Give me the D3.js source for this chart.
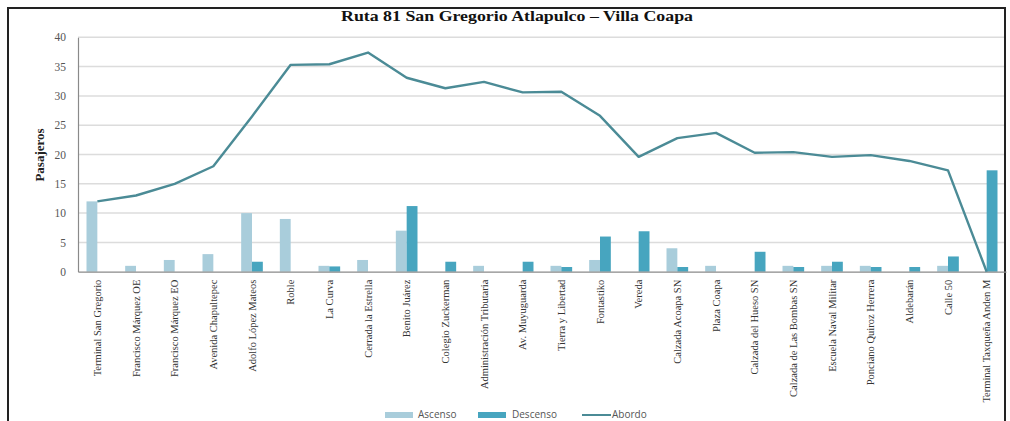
<!DOCTYPE html>
<html>
<head>
<meta charset="utf-8">
<script src="https://cdn.jsdelivr.net/npm/d3@7"></script>
<style>
  html, body { margin: 0; padding: 0; background: #fff; }
  svg { display: block; }
</style>
</head>
<body>
<svg id="chart" width="1010" height="421"></svg>
<script>
const categories = [
  "Terminal San Gregorio", "Francisco Márquez OE", "Francisco Márquez EO", "Avenida Chapultepec",
  "Adolfo López Mateos", "Roble", "La Curva", "Cerrada la Estrella", "Benito Juárez",
  "Colegio Zuckerman", "Administración Tributaria", "Av. Muyuguarda", "Tierra y Libertad",
  "Fontastiko", "Vereda", "Calzada Acoapa SN", "Plaza Coapa", "Calzada del Hueso SN",
  "Calzada de Las Bombas SN", "Escuela Naval Militar", "Ponciano Quiroz Herrera",
  "Aldebarán", "Calle 50", "Terminal Taxqueña Anden M"
];
const ascenso  = [12, 1, 2, 3, 10, 9, 1, 2, 7, 0, 1, 0, 1, 2, 0, 4, 1, 0, 1, 1, 1, 0, 1, 0];
const descenso = [0, 0, 0, 0, 1.7, 0, 0.9, 0, 11.2, 1.7, 0, 1.7, 0.8, 6, 6.9, 0.8, 0, 3.4, 0.8, 1.7, 0.8, 0.8, 2.6, 17.3];
const abordo   = [12, 13, 15, 18, 26.5, 35.3, 35.4, 37.4, 33.1, 31.3, 32.4, 30.6, 30.7, 26.6, 19.6, 22.8, 23.7, 20.3, 20.4, 19.6, 19.9, 18.9, 17.3, 0];
const yTicks   = [0, 5, 10, 15, 20, 25, 30, 35, 40];
const seriesNames = ["Ascenso", "Descenso", "Abordo"];
const title = "Ruta 81 San Gregorio Atlapulco – Villa Coapa";
const yTitle = "Pasajeros";

const colors = { asc: "#a9cddb", desc: "#47a5bf", line: "#4b8b96" };

const svg = d3.select("#chart");
const mLeft = 78, mRight = 1006, mTop = 37.3, mBottom = 271.7;

// frame
svg.append("rect").attr("x", 8).attr("y", 8).attr("width", 997).attr("height", 440)
  .attr("fill", "none").attr("stroke", "#222").attr("stroke-width", 2);

const x = d3.scaleBand().domain(categories).range([mLeft, mRight]).padding(0);
const y = d3.scaleLinear().domain([0, 40]).range([mBottom, mTop]);

// gridlines
svg.append("g").selectAll("line").data(yTicks.filter(d => d > 0)).join("line")
  .attr("x1", mLeft).attr("x2", mRight - 2)
  .attr("y1", d => y(d)).attr("y2", d => y(d))
  .attr("stroke", "#dcdcdc").attr("stroke-width", 1.5);

// y axis
const yAxis = svg.append("g").attr("transform", `translate(${mLeft},0)`)
  .call(d3.axisLeft(y).tickValues(yTicks).tickSize(0).tickPadding(12));
yAxis.select(".domain").attr("stroke", "#8a8a8a").attr("stroke-width", 1.2);
yAxis.selectAll("text").attr("font-family", "'Liberation Serif', serif").attr("font-size", 11.5)
  .attr("fill", "#555");

// bars
const bw = x.bandwidth() * 0.28;
const g = svg.append("g");
g.selectAll("rect.asc").data(categories).join("rect").attr("class", "asc")
  .attr("x", (d) => x(d) + x.bandwidth() / 2 - bw)
  .attr("width", bw)
  .attr("y", (d, i) => y(ascenso[i]))
  .attr("height", (d, i) => y(0) - y(ascenso[i]))
  .attr("fill", colors.asc);
g.selectAll("rect.desc").data(categories).join("rect").attr("class", "desc")
  .attr("x", (d) => x(d) + x.bandwidth() / 2)
  .attr("width", bw)
  .attr("y", (d, i) => y(descenso[i]))
  .attr("height", (d, i) => y(0) - y(descenso[i]))
  .attr("fill", colors.desc);

// x axis
const xAxis = svg.append("g").attr("transform", `translate(0,${mBottom})`)
  .call(d3.axisBottom(x).tickSize(0).tickSizeOuter(0).tickPadding(0));
xAxis.select(".domain").attr("stroke", "#8a8a8a").attr("stroke-width", 1.2);
xAxis.selectAll("text")
  .attr("font-family", "'Liberation Serif', serif").attr("font-size", 10.5).attr("fill", "#333")
  .attr("transform", "rotate(-90)")
  .attr("text-anchor", "end")
  .attr("dx", "-8").attr("dy", "0.35em")
  .attr("x", 0).attr("y", 0);

// line
const line = d3.line().x((d, i) => x(categories[i]) + x.bandwidth() / 2).y(d => y(d));
svg.append("path").datum(abordo).attr("d", line)
  .attr("fill", "none").attr("stroke", colors.line).attr("stroke-width", 2.4)
  .attr("stroke-linejoin", "round");

// title
svg.append("text").attr("x", 517).attr("y", 21).attr("text-anchor", "middle")
  .attr("font-family", "'Liberation Serif', serif").attr("font-weight", "bold")
  .attr("font-size", 14.5).attr("fill", "#111")
  .attr("textLength", 352).attr("lengthAdjust", "spacingAndGlyphs")
  .text(title);

// y title
svg.append("text").attr("transform", "translate(44,155) rotate(-90)").attr("text-anchor", "middle")
  .attr("font-family", "'Liberation Serif', serif").attr("font-weight", "bold")
  .attr("font-size", 13).attr("fill", "#222").text(yTitle);

// legend
const lg = svg.append("g").attr("font-family", "'Open Sans', sans-serif").attr("font-size", 10).attr("fill", "#555");
const legendItems = [
  { name: seriesNames[0], type: "rect", color: colors.asc, x: 385, tx: 418 },
  { name: seriesNames[1], type: "rect", color: colors.desc, x: 478, tx: 512 },
  { name: seriesNames[2], type: "line", color: colors.line, x: 582, tx: 612 }
];
legendItems.forEach(it => {
  if (it.type === "rect") {
    lg.append("rect").attr("x", it.x).attr("y", 412).attr("width", 28).attr("height", 6).attr("fill", it.color);
  } else {
    lg.append("line").attr("x1", it.x).attr("x2", it.x + 29).attr("y1", 415).attr("y2", 415)
      .attr("stroke", it.color).attr("stroke-width", 2);
  }
  lg.append("text").attr("x", it.tx).attr("y", 418).text(it.name);
});
</script>
</body>
</html>
